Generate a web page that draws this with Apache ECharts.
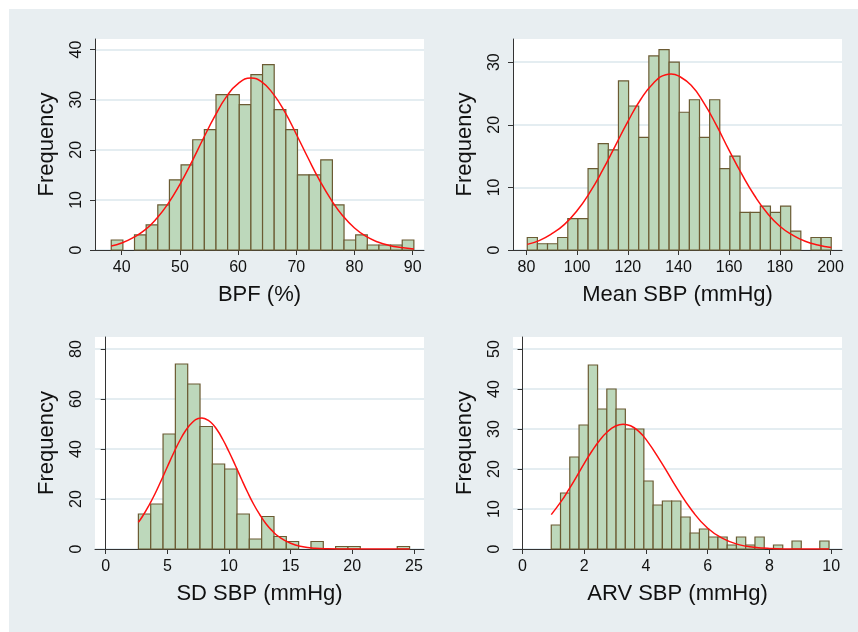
<!DOCTYPE html>
<html>
<head>
<meta charset="utf-8">
<script src="https://cdn.jsdelivr.net/npm/echarts@6.0.0/dist/echarts.min.js"></script>
<style>
  html, body { margin: 0; padding: 0; background: #fff; }
  #wrap { position: relative; width: 858px; height: 632px; background: #e8eef1; }
  #box { width: 858px; height: 632px; }
  .strip { position: absolute; background: #fff; }
</style>
</head>
<body>
<div id="wrap">
  <div id="box"></div>
  <div class="strip" style="left:0;top:0;width:858px;height:9px"></div>
  <div class="strip" style="left:0;top:0;width:9px;height:632px"></div>
</div>
<script>
// histogram bins: first lower edge, bin width, counts
var bpfStart = 38.2, bpfWidth = 2.0
var bpfCounts = [2, 0, 3, 5, 9, 14, 17, 22, 24, 31, 31, 29, 35, 37, 28, 24, 15, 15, 18, 9, 2, 3, 1, 1, 1, 2]

var sbpStart = 80.3, sbpWidth = 4.0
var sbpCounts = [2, 1, 1, 2, 5, 5, 13, 17, 16, 27, 23, 18, 31, 32, 30, 22, 24, 18, 24, 13, 15, 6, 6, 7, 6, 7, 3, 0, 2, 2]

var sdStart = 2.65, sdWidth = 1.0
var sdCounts = [14, 18, 46, 74, 66, 49, 34, 32, 14, 4, 13, 5, 3, 0, 3, 0, 1, 1, 0, 0, 0, 1]

var arvStart = 0.93, arvWidth = 0.3
var arvCounts = [6, 14, 23, 31, 46, 35, 40, 35, 30, 30, 17, 11, 12, 12, 8, 4, 5, 3, 3, 1, 3, 1, 3, 0, 1, 0, 2, 0, 0, 2]

// normal curves
var bpfCurve = [[38.2, 0.8], [40, 1.4], [42, 2.5], [44, 4.0], [46, 6.3], [48, 9.3], [50, 13.1], [52, 17.5], [54, 22.2],
  [56, 26.7], [58, 30.6], [60, 33.2], [62.2, 34.3], [64, 33.6], [66, 31.2], [68, 27.6], [70, 23.1], [72, 18.4],
  [74, 13.9], [76, 10.0], [78, 6.8], [80, 4.4], [82, 2.7], [84, 1.6], [86, 0.9], [88, 0.5], [90.2, 0.2]]
var sbpCurve = [[80.3, 0.9], [85, 1.5], [90, 2.6], [95, 4.1], [100, 6.3], [105, 9.2], [110, 12.7], [115, 16.6],
  [120, 20.5], [125, 24.0], [130, 26.6], [135, 28.0], [137.1, 28.1], [140, 27.8], [145, 26.3], [150, 23.5],
  [155, 19.9], [160, 15.9], [165, 12.1], [170, 8.7], [175, 5.9], [180, 3.8], [185, 2.4], [190, 1.4], [195, 0.8], [200.3, 0.4]]
var sdCurve = [[2.65, 10.7], [3, 13.2], [3.5, 17.4], [4, 22.1], [4.5, 27.4], [5, 32.9], [5.5, 38.3], [6, 43.3], [6.5, 47.5],
  [7, 50.5], [7.5, 52.2], [7.8, 52.4], [8, 52.2], [8.5, 50.8], [9, 47.9], [9.5, 43.8], [10, 38.9], [10.5, 33.6],
  [11, 28.1], [11.5, 22.8], [12, 17.9], [12.5, 13.7], [13, 10.1], [13.5, 7.3], [14, 5.1], [15, 2.3], [16, 0.9],
  [17, 0.3], [18, 0.1], [20, 0], [22, 0], [24.65, 0]]
var arvCurve = [[0.93, 8.6], [1.25, 11.9], [1.5, 14.9], [1.75, 18.1], [2, 21.4], [2.25, 24.5], [2.5, 27.2], [2.75, 29.3],
  [3, 30.7], [3.26, 31.2], [3.5, 30.8], [3.75, 29.5], [4, 27.4], [4.5, 21.6], [5, 15.2], [5.5, 9.5], [6, 5.2],
  [6.5, 2.6], [7, 1.1], [7.5, 0.44], [8, 0.15], [9, 0.01], [9.93, 0]]

// tick labels
var bpfTicks = [40, 50, 60, 70, 80, 90]
var sbpTicks = [80, 100, 120, 140, 160, 180, 200]
var sdTicks = [0, 5, 10, 15, 20, 25]
var arvTicks = [0, 2, 4, 6, 8, 10]
var freqTicks1 = [0, 10, 20, 30, 40]
var freqTicks2 = [0, 10, 20, 30]
var freqTicks3 = [0, 20, 40, 60, 80]
var freqTicks4 = [0, 10, 20, 30, 40, 50]

var titles = ['BPF (%)', 'Mean SBP (mmHg)', 'SD SBP (mmHg)', 'ARV SBP (mmHg)']

var font = "'Liberation Sans', Arial, sans-serif"

function bins(start, width, counts) {
    var out = []
    for (var i = 0; i < counts.length; i++) {
        out.push([start + i * width, start + (i + 1) * width, counts[i]])
    }
    return out
}

function renderBar(params, api) {
    var h = api.value(2)
    if (!h) return null
    var p0 = api.coord([api.value(0), h])
    var p1 = api.coord([api.value(1), 0])
    return {
        type: 'rect',
        shape: { x: p0[0], y: p0[1], width: p1[0] - p0[0], height: p1[1] - p0[1] },
        style: { fill: '#bdd8bb', stroke: '#6b5b33', lineWidth: 1.2 }
    }
}

var panels = [
    { left: 95, top: 39, h: 211, xmin: 35.41, xmax: 91.94, ymax: 42.1, xt: bpfTicks, yt: freqTicks1,
      bars: bins(bpfStart, bpfWidth, bpfCounts), curve: bpfCurve },
    { left: 513, top: 39, h: 211, xmin: 74.67, xmax: 204.55, ymax: 33.7, xt: sbpTicks, yt: freqTicks2,
      bars: bins(sbpStart, sbpWidth, sbpCounts), curve: sbpCurve },
    { left: 95, top: 337, h: 212, xmin: -0.87, xmax: 25.82, ymax: 84.8, xt: sdTicks, yt: freqTicks3,
      bars: bins(sdStart, sdWidth, sdCounts), curve: sdCurve },
    { left: 513, top: 337, h: 212, xmin: -0.31, xmax: 10.35, ymax: 53, xt: arvTicks, yt: freqTicks4,
      bars: bins(arvStart, arvWidth, arvCounts), curve: arvCurve }
]

var grid = [], xAxis = [], yAxis = [], series = []
panels.forEach(function (p, i) {
    grid.push({ left: p.left, top: p.top, width: 329, height: p.h, show: true,
        backgroundColor: '#fff', borderWidth: 0 })
    xAxis.push({
        type: 'value', gridIndex: i, min: p.xmin, max: p.xmax,
        name: titles[i], nameLocation: 'middle', nameGap: 34,
        nameTextStyle: { fontFamily: font, fontSize: 22, color: '#111' },
        axisLine: { show: true, lineStyle: { color: '#333', width: 1 } },
        axisTick: { show: true, length: 5, customValues: p.xt, lineStyle: { color: '#333' } },
        axisLabel: { customValues: p.xt, margin: 10, fontFamily: font, fontSize: 16, color: '#111' },
        splitLine: { show: false }
    })
    yAxis.push({
        type: 'value', gridIndex: i, min: 0, max: p.ymax,
        name: 'Frequency', nameLocation: 'middle', nameGap: 37,
        nameTextStyle: { fontFamily: font, fontSize: 22, color: '#111' },
        axisLine: { show: true, lineStyle: { color: '#333', width: 1 } },
        axisTick: { show: true, length: 5, customValues: p.yt, lineStyle: { color: '#333' } },
        axisLabel: { customValues: p.yt, rotate: 90, margin: 10, fontFamily: font, fontSize: 16, color: '#111' },
        splitLine: { show: true, lineStyle: { color: '#e4edf1', width: 2 } }
    })
    series.push({
        type: 'custom', xAxisIndex: i, yAxisIndex: i,
        renderItem: renderBar, encode: { x: [0, 1], y: 2 },
        data: p.bars, z: 2, silent: true
    })
    series.push({
        type: 'line', xAxisIndex: i, yAxisIndex: i,
        data: p.curve, smooth: true, showSymbol: false, z: 3, silent: true,
        lineStyle: { color: '#ff1010', width: 1.5 }
    })
})

var myChart = echarts.init(document.getElementById('box'))
myChart.setOption({
    animation: false,
    grid: grid,
    xAxis: xAxis,
    yAxis: yAxis,
    series: series
})
</script>
</body>
</html>
